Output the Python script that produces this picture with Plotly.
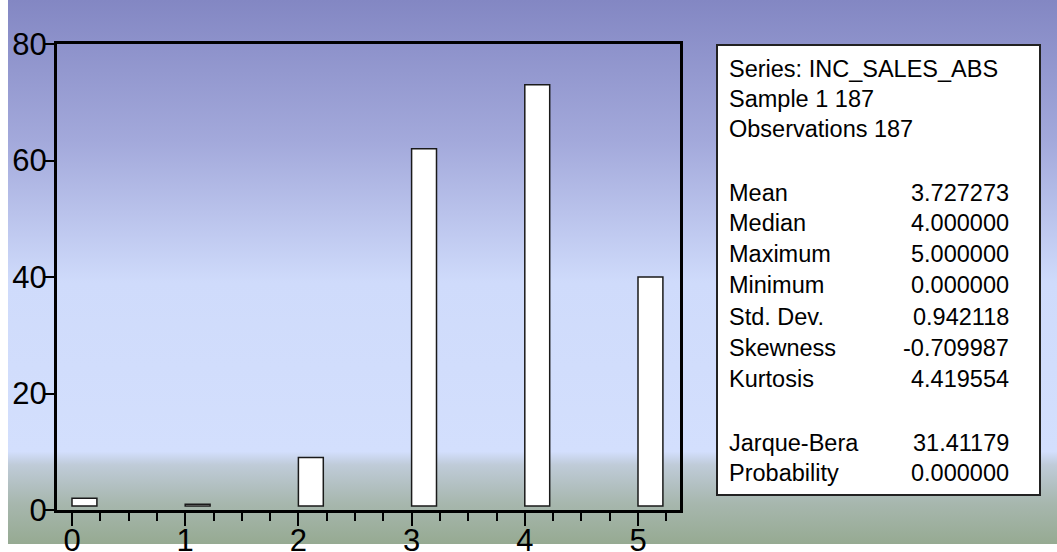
import base64
import plotly.graph_objects as go

# Histogram of INC_SALES_ABS: frequency of each observed value
values = [0, 1, 2, 3, 4, 5]
counts = [2, 1, 9, 62, 73, 40]

x_ticks = [0, 1, 2, 3, 4, 5]
y_ticks = [0, 20, 40, 60, 80]

# Descriptive statistics panel
header_lines = ["Series: INC_SALES_ABS", "Sample 1 187", "Observations 187"]
stat_names = ["Mean", "Median", "Maximum", "Minimum", "Std. Dev.",
              "Skewness", "Kurtosis", "Jarque-Bera", "Probability"]
stat_values = ["3.727273", "4.000000", "5.000000", "0.000000", "0.942118",
               "-0.709987", "4.419554", "31.41179", "0.000000"]

W, H = 1057, 552
BAR_BASE = 0.7      # bars rise from just above the axis line
BAR_WIDTH = 0.22
FONT = "Liberation Sans, Arial, Helvetica, sans-serif"


def px_x(p):
    return p / W


def px_y(p):
    return 1 - p / H


# vertical background gradient rendered as an inline SVG
stops = [(0.00, "#8387c3"), (0.26, "#a3a9db"), (0.52, "#cfdbfb"),
         (0.83, "#d3dffd"), (0.855, "#bfcbd8"), (0.925, "#a7b7ae"),
         (1.00, "#96aa92")]
stop_xml = "".join(f'<stop offset="{o}" stop-color="{c}"/>' for o, c in stops)
bg_w, bg_h = W - 8, H - 8
svg = (f'<svg xmlns="http://www.w3.org/2000/svg" width="{bg_w}" height="{bg_h}" '
       f'viewBox="0 0 {bg_w} {bg_h}" preserveAspectRatio="none">'
       f'<defs><linearGradient id="g" x1="0" y1="0" x2="0" y2="1">{stop_xml}'
       f'</linearGradient></defs><rect width="{bg_w}" height="{bg_h}" fill="url(#g)"/></svg>')
bg_src = "data:image/svg+xml;base64," + base64.b64encode(svg.encode()).decode()

fig = go.Figure()
fig.add_trace(go.Bar(
    x=values,
    y=[c - BAR_BASE for c in counts],
    base=BAR_BASE,
    width=BAR_WIDTH,
    offset=0,
    marker=dict(color="white", line=dict(color="#1a1a1a", width=1.5)),
    hovertext=[f"{v}: {c}" for v, c in zip(values, counts)],
    hoverinfo="text",
))

# plot frame: 0 at x=72px, 5 at x=638px; frame spans 57px..680px
x0_px, x1_px = 57, 680
unit = (638 - 72) / 5
x_range = [(x0_px - 72) / unit, (x1_px - 72) / unit]
y_top_px, y_bot_px = 44, 510

fig.update_layout(
    template="none",
    width=W, height=H,
    margin=dict(l=0, r=0, t=0, b=0, pad=0),
    paper_bgcolor="white",
    plot_bgcolor="rgba(0,0,0,0)",
    showlegend=False,
    font=dict(family=FONT, color="black"),
    xaxis=dict(
        domain=[px_x(x0_px), px_x(x1_px)],
        range=x_range,
        tickvals=x_ticks,
        ticks="outside", ticklen=13, tickwidth=1.5, tickcolor="black",
        minor=dict(dtick=0.25, tick0=0, ticks="outside", ticklen=8,
                   tickwidth=1.5, tickcolor="black"),
        showline=True, linewidth=3, linecolor="black", mirror=True,
        showgrid=False, zeroline=False, automargin=False,
        ticklabelstandoff=-12,
        tickfont=dict(size=31, family=FONT, color="black"),
        fixedrange=True,
    ),
    yaxis=dict(
        domain=[px_y(y_bot_px), px_y(y_top_px)],
        range=[0, 80],
        tickvals=y_ticks,
        ticks="outside", ticklen=9, tickwidth=1.5, tickcolor="black",
        showline=True, linewidth=3, linecolor="black", mirror=True,
        showgrid=False, zeroline=False, automargin=False,
        ticklabelstandoff=-8,
        tickfont=dict(size=31, family=FONT, color="black"),
        fixedrange=True,
    ),
    images=[dict(
        source=bg_src, xref="paper", yref="paper",
        x=px_x(8), y=1, sizex=1 - px_x(8), sizey=1 - 8 / H,
        xanchor="left", yanchor="top", sizing="stretch", layer="below",
    )],
    shapes=[dict(
        type="rect", xref="paper", yref="paper",
        x0=px_x(717), x1=px_x(1040), y0=px_y(495), y1=px_y(45),
        fillcolor="white", line=dict(color="#222222", width=2),
    )],
)

# statistics text rows (vertical centres in px)
header_y = [68.7, 99.3, 128.7]
stat_y = [193.3, 223.3, 254, 285, 316.7, 348, 379, 442.7, 473]
txt_font = dict(size=23.5, family=FONT, color="black")
for text, yc in zip(header_lines, header_y):
    fig.add_annotation(text=text, x=px_x(727), y=px_y(yc), xref="paper", yref="paper",
                       xanchor="left", yanchor="middle", showarrow=False, font=txt_font)
for name, val, yc in zip(stat_names, stat_values, stat_y):
    fig.add_annotation(text=name, x=px_x(727), y=px_y(yc), xref="paper", yref="paper",
                       xanchor="left", yanchor="middle", showarrow=False, font=txt_font)
    fig.add_annotation(text=val, x=px_x(1011), y=px_y(yc), xref="paper", yref="paper",
                       xanchor="right", yanchor="middle", showarrow=False, font=txt_font)

fig.write_html("out.html")
